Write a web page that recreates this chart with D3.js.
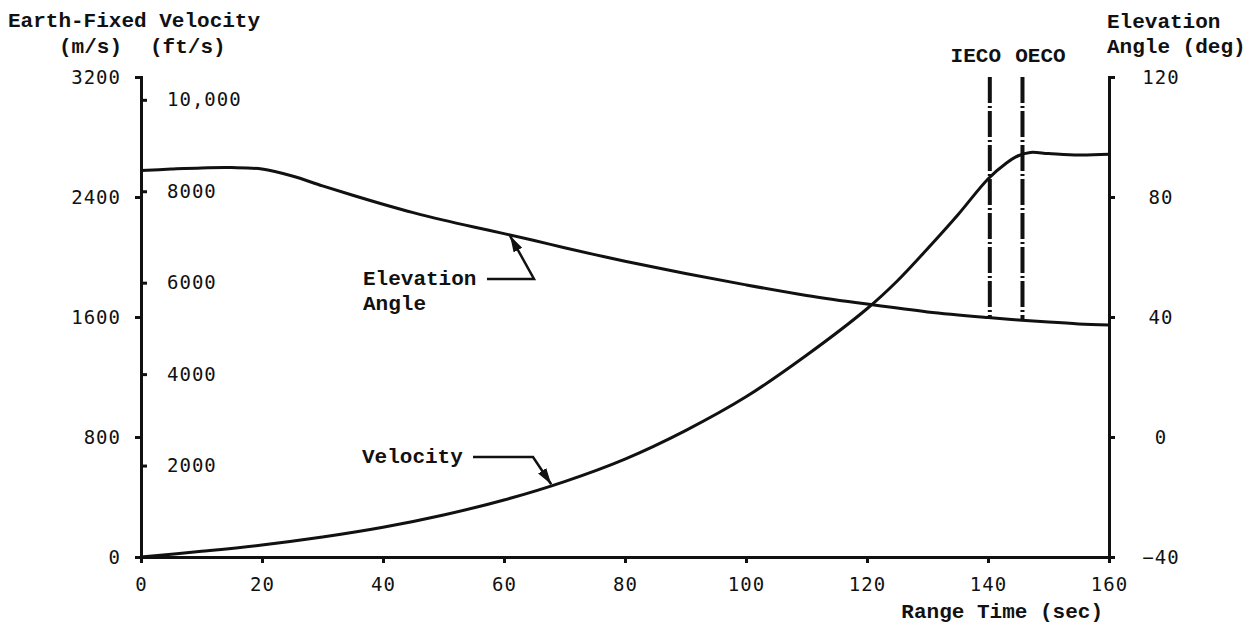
<!DOCTYPE html>
<html>
<head>
<meta charset="utf-8">
<script src="https://cdn.jsdelivr.net/npm/d3@7"></script>
<style>
  body { margin: 0; background: #fff; }
  .lbl { font-family: "Liberation Mono", monospace; font-weight: bold; font-size: 21px; fill: #111; }
  .tick text { font-family: "DejaVu Sans Mono", monospace; font-size: 19px; letter-spacing: 1px; fill: #111; }
  .domain, .tick line { stroke: #111; stroke-width: 3; }
</style>
</head>
<body>
<div id="chart"></div>
<script>
// Range time (sec)
var elevTime = [0, 5, 10, 15, 20, 25, 30, 35, 40, 45, 50, 55, 60, 65, 70, 75, 80, 90, 100, 110, 120, 130, 140, 145, 150, 155, 160];
// Elevation angle (deg)
var elevDeg = [88.8, 89.3, 89.7, 89.8, 89.3, 87.0, 83.7, 80.6, 77.6, 74.8, 72.3, 70.0, 67.8, 65.5, 63.1, 60.8, 58.6, 54.5, 50.7, 47.2, 44.3, 41.7, 39.8, 39.0, 38.3, 37.7, 37.3];

var velTime = [0, 10, 20, 30, 40, 50, 60, 70, 80, 90, 100, 110, 120, 125, 130, 135, 140, 143, 145, 147, 150, 155, 160];
// Earth-fixed velocity (m/s)
var velMs = [0, 38, 80, 133, 198, 280, 380, 503, 653, 843, 1068, 1345, 1655, 1840, 2055, 2280, 2520, 2625, 2675, 2697, 2690, 2680, 2685];

var eventNames = ["IECO", "OECO"];
var eventTimes = [140.3, 145.7];
var eventBottomDeg = [39.8, 38.9];

var timeTicks = [0, 20, 40, 60, 80, 100, 120, 140, 160];
var msTicks = [0, 800, 1600, 2400, 3200];
var ftTicks = [2000, 4000, 6000, 8000, 10000];
var degTicks = [-40, 0, 40, 80, 120];

var svgWidth = 1256, svgHeight = 626;
var margin = { top: 77, right: 147, bottom: 69, left: 141 };
var width = svgWidth - margin.left - margin.right;
var height = svgHeight - margin.top - margin.bottom;

var svg = d3.select("#chart").append("svg")
  .attr("width", svgWidth)
  .attr("height", svgHeight);

var chartGroup = svg.append("g")
  .attr("transform", `translate(${margin.left}, ${margin.top})`);

// scales
var x = d3.scaleLinear().domain([0, 160]).range([0, width]);
var yMs = d3.scaleLinear().domain([0, 3200]).range([height, 0]);
var yFt = d3.scaleLinear().domain([0, 3200 / 0.3048]).range([height, 0]);
var yDeg = d3.scaleLinear().domain([-40, 120]).range([height, 0]);

// axes
chartGroup.append("g")
  .attr("transform", `translate(0, ${height})`)
  .call(d3.axisBottom(x).tickValues(timeTicks).tickSize(6).tickSizeOuter(0).tickPadding(15));

chartGroup.append("g")
  .call(d3.axisLeft(yMs).tickValues(msTicks).tickSize(6).tickPadding(14).tickFormat(d3.format("d")));

var ftAxis = chartGroup.append("g")
  .call(d3.axisRight(yFt).tickValues(ftTicks).tickSize(6).tickSizeOuter(0).tickPadding(20)
    .tickFormat(d => d >= 10000 ? d3.format(",")(d) : d));
ftAxis.select(".domain").remove();

var degAxis = chartGroup.append("g")
  .attr("transform", `translate(${width}, 0)`)
  .call(d3.axisRight(yDeg).tickValues(degTicks).tickSize(6).tickPadding(10));
degAxis.selectAll(".tick text").attr("text-anchor", "middle").attr("x", 52);

// curves
var elevData = elevTime.map((t, i) => ({ t: t, v: elevDeg[i] }));
var velData = velTime.map((t, i) => ({ t: t, v: velMs[i] }));

chartGroup.append("path")
  .datum(elevData)
  .attr("fill", "none").attr("stroke", "#111").attr("stroke-width", 3)
  .attr("d", d3.line().x(d => x(d.t)).y(d => yDeg(d.v)).curve(d3.curveCatmullRom));

chartGroup.append("path")
  .datum(velData)
  .attr("fill", "none").attr("stroke", "#111").attr("stroke-width", 3)
  .attr("d", d3.line().x(d => x(d.t)).y(d => yMs(d.v)).curve(d3.curveCatmullRom));

// IECO / OECO markers
eventNames.forEach((name, i) => {
  chartGroup.append("line")
    .attr("x1", x(eventTimes[i])).attr("x2", x(eventTimes[i]))
    .attr("y1", 0).attr("y2", yDeg(eventBottomDeg[i]))
    .attr("stroke", "#111").attr("stroke-width", 4)
    .attr("stroke-dasharray", "26,3,2,3");
});
chartGroup.append("text").attr("class", "lbl")
  .attr("x", x(eventTimes[0]) - 14).attr("y", -15).attr("text-anchor", "middle").text(eventNames[0]);
chartGroup.append("text").attr("class", "lbl")
  .attr("x", x(eventTimes[1]) + 18).attr("y", -15).attr("text-anchor", "middle").text(eventNames[1]);

// annotations with arrows
svg.append("defs").append("marker")
  .attr("id", "arrow").attr("viewBox", "0 0 10 10")
  .attr("refX", 10).attr("refY", 5)
  .attr("markerWidth", 6.5).attr("markerHeight", 6.5)
  .attr("markerUnits", "strokeWidth")
  .attr("orient", "auto")
  .append("path").attr("d", "M0,2 L10,5 L0,8 Z").attr("fill", "#111");

var elevTip = { t: 61, v: 67.4 };
var velTip = { t: 67.8, v: 478 };

chartGroup.append("path")
  .attr("fill", "none").attr("stroke", "#111").attr("stroke-width", 2.5)
  .attr("marker-end", "url(#arrow)")
  .attr("d", `M${487 - margin.left},${279 - margin.top} H${534 - margin.left} L${x(elevTip.t)},${yDeg(elevTip.v) + 1}`);
chartGroup.append("text").attr("class", "lbl").attr("x", 363 - margin.left).attr("y", 285 - margin.top).text("Elevation");
chartGroup.append("text").attr("class", "lbl").attr("x", 363 - margin.left).attr("y", 310 - margin.top).text("Angle");

chartGroup.append("path")
  .attr("fill", "none").attr("stroke", "#111").attr("stroke-width", 2.5)
  .attr("marker-end", "url(#arrow)")
  .attr("d", `M${473 - margin.left},${457 - margin.top} H${533 - margin.left} L${x(velTip.t)},${yMs(velTip.v) - 1}`);
chartGroup.append("text").attr("class", "lbl").attr("x", 362 - margin.left).attr("y", 463 - margin.top).text("Velocity");

// axis titles
svg.append("text").attr("class", "lbl").attr("x", 8).attr("y", 27).text("Earth-Fixed Velocity");
svg.append("text").attr("class", "lbl").attr("x", 59).attr("y", 53).text("(m/s)");
svg.append("text").attr("class", "lbl").attr("x", 150).attr("y", 53).text("(ft/s)");
svg.append("text").attr("class", "lbl").attr("x", 1107).attr("y", 28).text("Elevation");
svg.append("text").attr("class", "lbl").attr("x", 1107).attr("y", 53).text("Angle (deg)");
svg.append("text").attr("class", "lbl").attr("x", 1103).attr("y", 618).attr("text-anchor", "end").text("Range Time (sec)");
</script>
</body>
</html>
